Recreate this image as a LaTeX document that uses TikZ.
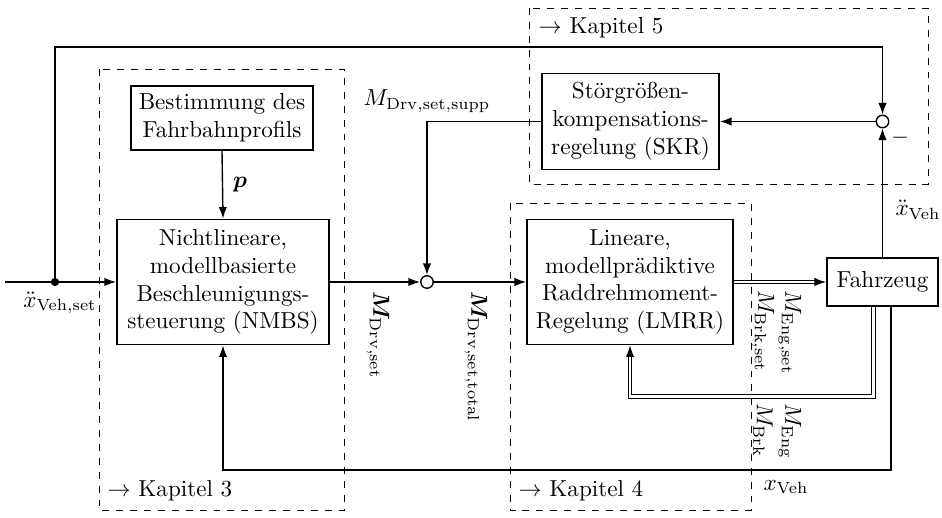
\documentclass[tikz,border=0pt]{standalone}
\usepackage{bm}
\usetikzlibrary{arrows.meta}

\begin{document}
\begin{tikzpicture}[x=0.432pt, y=-0.432pt,
  >={Latex[length=5pt,width=3.6pt]},
  block/.style = {draw, thick, align=center, inner sep=2pt},
  sumpt/.style = {draw, semithick, circle, minimum size=5.4pt, inner sep=0pt},
  chapter/.style = {draw, dashed},
  conn/.style = {draw, semithick},
  dbl/.style = {draw, line width=0.45pt, double, double distance=1.2pt},
  lbl/.style = {inner sep=0pt}]
  \useasboundingbox (0,0) rectangle (942,518);
  \draw[chapter] (99,69) rectangle (344,510);
  \draw[chapter] (510,203) rectangle (751,510);
  \draw[chapter] (529,8) rectangle (928,184);
  \node[anchor=south west, inner sep=3.5pt] (kap3) at (99,510) {$\rightarrow$ Kapitel 3};
  \node[anchor=south west, inner sep=3.5pt] (kap4) at (510,510) {$\rightarrow$ Kapitel 4};
  \node[anchor=north west, inner sep=4pt] (kap5) at (529,8) {$\rightarrow$ Kapitel 5};

  \node[block, minimum width=78.6pt, minimum height=27.6pt] (profil) at (222,118)
    {Bestimmung des\\ Fahrbahnprofils};
  \node[block, minimum width=91.6pt, minimum height=54pt] (nmbs) at (223,282)
    {Nichtlineare,\\ modellbasierte\\ Beschleunigungs-\\ steuerung (NMBS)};
  \node[block, minimum width=89pt, minimum height=54pt] (lmrr) at (630,282)
    {Lineare,\\ modellprädiktive\\ Raddrehmoment-\\ Regelung (LMRR)};
  \node[block, minimum width=76.5pt, minimum height=41.5pt] (skr) at (630.5,121.5)
    {Störgrößen-\\ kompensations-\\ regelung (SKR)};
  \node[block, minimum width=48pt, minimum height=20.7pt] (fzg) at (882.5,282) {Fahrzeug};
  \node[sumpt] (sum1) at (427,282) {};
  \node[sumpt] (sum2) at (882.5,121.5) {};
  \coordinate (start) at (5,282);
  \coordinate (split) at (55,282);
  \coordinate (corner) at (55,47);

  \draw[conn,->] (start) -- (nmbs.west);
  \fill (split) circle (1.8pt);
  \draw[conn,->] (split) -- (corner) -| (sum2.north);
  \draw[conn,->] (profil.south) -- (nmbs.north);
  \draw[conn,->] (nmbs.east) -- (sum1.west);
  \draw[conn,->] (sum1.east) -- (lmrr.west);
  \draw[conn,->] (skr.west) -| (sum1.north);
  \draw[conn,->] (sum2.west) -- (skr.east);
  \draw[conn,->] (fzg.north) -- (sum2.south);
  \draw[dbl,->] (lmrr.east) -- (fzg.west);
  \draw[dbl,->] ([xshift=-4pt]fzg.south) -- ++(0,90) -| (lmrr.south);
  \draw[conn,->] ([xshift=3.7pt]fzg.south) -- ++(0,163) -| (nmbs.south);

  \node[lbl] (xset) at (60,303) {$\ddot{x}_\mathrm{Veh,set}$};
  \node[lbl] (plbl) at (240,185) {$\bm{p}$};
  \node[lbl, rotate=-90, anchor=west] (mset) at (378,291) {$\bm{M}_\mathrm{Drv,set}$};
  \node[lbl, rotate=-90, anchor=west] (mtot) at (476,291) {$\bm{M}_\mathrm{Drv,set,total}$};
  \node[lbl] (msupp) at (427,101) {$M_\mathrm{Drv,set,supp}$};
  \node[lbl, rotate=-90, anchor=west] (mengset) at (790,290) {$M_\mathrm{Eng,set}$};
  \node[lbl, rotate=-90, anchor=west] (mbrkset) at (763,290) {$M_\mathrm{Brk,set}$};
  \node[lbl, rotate=-90, anchor=west] (meng) at (790,403) {$M_\mathrm{Eng}$};
  \node[lbl, rotate=-90, anchor=west] (mbrk) at (763,403) {$M_\mathrm{Brk}$};
  \node[lbl] (xveh) at (786,487) {$x_\mathrm{Veh}$};
  \node[lbl] (accveh) at (918,210) {$\ddot{x}_\mathrm{Veh}$};
  \node[lbl] (minus) at (900,138) {$-$};
\end{tikzpicture}
\end{document}
